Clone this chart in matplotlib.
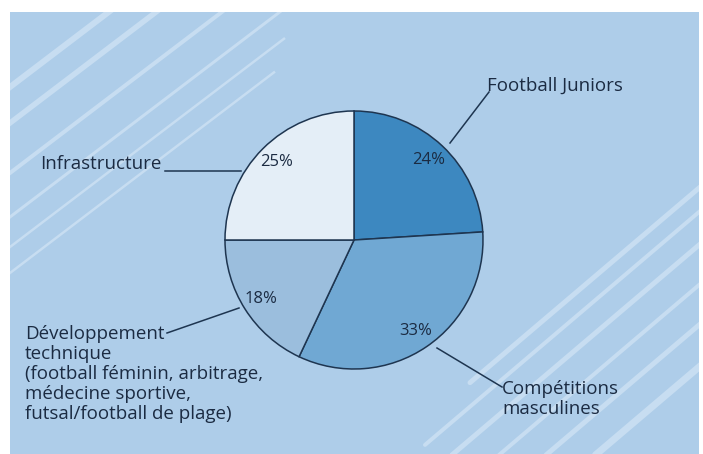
import numpy as np
import matplotlib
matplotlib.use('Agg')
import matplotlib.pyplot as plt
from matplotlib.patches import Rectangle

# data
categories = ['Football Juniors', 'Compétitions\nmasculines',
              'Développement\ntechnique\n(football féminin, arbitrage,\nmédecine sportive,\nfutsal/football de plage)',
              'Infrastructure']
shares = [24, 33, 18, 25]
colors = ['#3d88c0', '#70a8d3', '#9bbedd', '#e4eef7']

W, H = 703, 454
BG = '#aecde9'
STRIPE = '#c7ddf1'
INK = '#1b2b42'

plt.rcParams['font.family'] = ['Open Sans', 'DejaVu Sans']

fig = plt.figure(figsize=(W / 100, H / 100), dpi=100)
ax = fig.add_axes([0, 0, 1, 1])


def Y(y):
    # image rows -> axis y
    return H - y


bg = Rectangle((10, 0), 689, Y(12), facecolor=BG, edgecolor='none', zorder=0)
ax.add_patch(bg)

# decorative diagonal stripes: (row at anchor x, width px, x range)
upper = [(87, 6, 0, 400), (123, 5.5, 0, 400), (173, 4, 0, 400),
         (217, 3, 0, 400), (247, 2.5, 0, 285), (273, 2.5, 0, 275)]
lower = [(188, 5, 470, 720), (212, 4, 425, 720), (245, 5, 300, 720),
         (285, 4, 300, 720), (325, 5, 300, 720), (367, 7, 300, 720)]
for y0, lw, x0, x1 in upper:
    xs = np.array([x0, x1])
    ln, = ax.plot(xs, [Y(y0 - (x - 10) * 0.76) for x in xs], color=STRIPE,
                  lw=lw * 0.72, solid_capstyle='butt', zorder=1)
    ln.set_clip_path(bg)
for y0, lw, x0, x1 in lower:
    xs = np.array([x0, x1])
    ln, = ax.plot(xs, [Y(y0 + (699 - x) * 0.85) for x in xs], color=STRIPE,
                  lw=lw * 0.72, solid_capstyle='round', zorder=1)
    ln.set_clip_path(bg)

cx, cy, r = 354, Y(240), 129
wedges, texts, autotexts = ax.pie(
    shares, colors=colors, startangle=90, counterclock=False,
    center=(cx, cy), radius=r, autopct='%d%%', pctdistance=0.85,
    wedgeprops=dict(edgecolor='#1e3550', linewidth=1.1),
    textprops=dict(color=INK, fontsize=12), frame=True)
ax.set_xlim(0, W)
ax.set_ylim(0, H)
ax.set_aspect('equal')
ax.axis('off')
for w in wedges:
    w.set_zorder(3)
for t in autotexts:
    t.set_zorder(4)

line_kw = dict(color='#1e3550', lw=1.1)
fs = 13.5
# Football Juniors
ax.plot([450, 489], [Y(143), Y(92)], **line_kw, zorder=2)
ax.text(487, Y(86), categories[0], fontsize=fs, color=INK, va='center', ha='left')
# Compétitions masculines
ax.plot([437, 502], [Y(348), Y(387)], **line_kw, zorder=2)
ax.text(502, Y(399), categories[1], fontsize=fs, color=INK, va='center', ha='left',
        linespacing=1.15)
# Développement technique
ax.plot([167, 239], [Y(333), Y(308)], **line_kw, zorder=2)
ax.text(25, Y(374), categories[2], fontsize=fs, color=INK, va='center', ha='left',
        linespacing=1.15)
# Infrastructure
ax.plot([165, 241], [Y(171), Y(171)], **line_kw, zorder=2)
ax.text(40, Y(164), categories[3], fontsize=fs, color=INK, va='center', ha='left')

fig.savefig('out.png', dpi=100, facecolor='white')
